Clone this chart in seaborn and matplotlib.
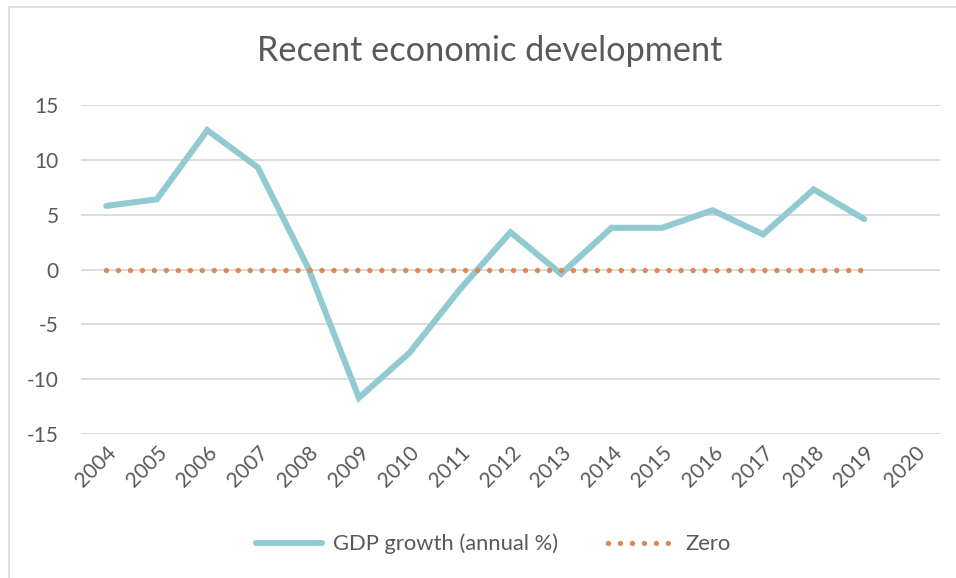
import matplotlib
matplotlib.use("Agg")
import matplotlib.pyplot as plt
from matplotlib.patches import Rectangle
from matplotlib.lines import Line2D
import seaborn as sns
import pandas as pd

# Category axis (2020 is shown on the axis but has no data yet)
years = [2004, 2005, 2006, 2007, 2008, 2009, 2010, 2011, 2012,
         2013, 2014, 2015, 2016, 2017, 2018, 2019, 2020]
data_years = years[:-1]
gdp_growth = [5.8, 6.4, 12.7, 9.3, 0.1, -11.7, -7.6, -1.8, 3.4,
              -0.4, 3.8, 3.8, 5.4, 3.2, 7.3, 4.6]
zero_line = [0.0] * len(data_years)
y_ticks = [-15, -10, -5, 0, 5, 10, 15]

title = "Recent economic development"
gdp_label = "GDP growth (annual %)"
zero_label = "Zero"

teal = "#92CAD2"
orange = "#DC8A56"
text_grey = "#595959"
grid_grey = "#D9D9D9"

sns.set_theme(style="white")
plt.rcParams["font.family"] = ["Lato", "DejaVu Sans"]
plt.rcParams["axes.unicode_minus"] = False

df = pd.DataFrame({"year": data_years, "gdp": gdp_growth, "zero": zero_line})

fig = plt.figure(figsize=(9.56, 5.78), dpi=100)
ax = fig.add_axes([81 / 956, 1 - 434 / 578, (940 - 81) / 956, (434 - 105) / 578])

# chart frame
fig.patches.append(Rectangle((9 / 956, -0.1), 1.2, 1 - 7 / 578 + 0.1,
                             transform=fig.transFigure, fill=False,
                             edgecolor="#D9D9D9", linewidth=1.2, zorder=0))

dot_style = (0, (0.01, 2.2))

ax.set_ylim(-15, 15)
ax.set_xlim(years[0] - 0.5, years[-1] + 0.5)
ax.set_yticks(y_ticks)
ax.yaxis.grid(True, color=grid_grey, linewidth=1.3)
ax.set_axisbelow(True)

sns.lineplot(data=df, x="year", y="gdp", ax=ax, color=teal, linewidth=4.4,
             solid_joinstyle="miter", solid_capstyle="round", zorder=3)
sns.lineplot(data=df, x="year", y="zero", ax=ax, color=orange, linewidth=3.9,
             linestyle=dot_style, dash_capstyle="round", zorder=4)

for s in ax.spines.values():
    s.set_visible(False)

ax.set_xticks(years)
ax.set_xticklabels([str(y) for y in years], rotation=45, ha="right", va="top",
                   rotation_mode="anchor", fontsize=15, color=text_grey)
ax.tick_params(axis="x", length=0, pad=6)
ax.tick_params(axis="y", length=0, pad=16, labelsize=15, labelcolor=text_grey)
ax.set_xlabel("")
ax.set_ylabel("")

fig.text(0.512, 1 - 51 / 578, title, ha="center", va="center",
         fontsize=24.7, color=text_grey)

handles = [
    Line2D([], [], color=teal, linewidth=4.4, solid_capstyle="round"),
    Line2D([], [], color=orange, linewidth=3.9, linestyle=dot_style,
           dash_capstyle="round"),
]
fig.legend(handles, [gdp_label, zero_label], loc="center",
           bbox_to_anchor=(493 / 956, 1 - 544 / 578), ncol=2, frameon=False,
           fontsize=15.8, labelcolor=text_grey, handlelength=3.0,
           handletextpad=0.5, columnspacing=2.3)

fig.savefig("out.png", dpi=100)
